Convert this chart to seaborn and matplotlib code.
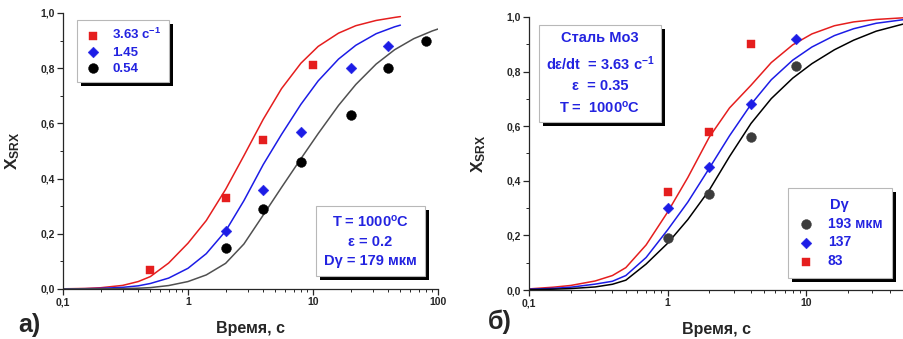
import numpy as np
import seaborn as sns
import matplotlib
matplotlib.use('Agg')
from matplotlib import pyplot as plt
from matplotlib.ticker import FixedLocator, FuncFormatter, MultipleLocator, LogLocator

# ---- panel a): measured points ----
a_red_t = [0.5, 2, 4, 10]
a_red_x = [0.07, 0.33, 0.54, 0.81]
a_blue_t = [2, 4, 8, 20, 40]
a_blue_x = [0.21, 0.36, 0.57, 0.80, 0.88]
a_black_t = [2, 4, 8, 20, 40, 80]
a_black_x = [0.15, 0.29, 0.46, 0.63, 0.80, 0.90]

# ---- panel a): fitted curves (read off the picture) ----
a_red_ct = [0.1, 0.15, 0.2, 0.3, 0.4, 0.5, 0.7, 1, 1.4, 2, 2.8, 4, 5.6, 8, 11, 16, 22, 32, 45, 50]
a_red_cx = [0.0007, 0.002, 0.0046, 0.013, 0.027, 0.045, 0.094, 0.166, 0.248, 0.361, 0.483, 0.615,
            0.726, 0.818, 0.879, 0.927, 0.954, 0.973, 0.984, 0.987]
a_blue_ct = [0.1, 0.15, 0.2, 0.3, 0.4, 0.5, 0.7, 1, 1.4, 2, 2.8, 4, 5.6, 8, 11, 16, 22, 32, 45, 50]
a_blue_cx = [0.0003, 0.0011, 0.0022, 0.006, 0.0115, 0.02, 0.0395, 0.075, 0.128, 0.21, 0.32, 0.451,
             0.56, 0.669, 0.754, 0.833, 0.883, 0.925, 0.95, 0.956]
a_black_ct = [0.1, 0.2, 0.3, 0.4, 0.5, 0.7, 1, 1.4, 2, 2.8, 4, 5.6, 8, 11, 16, 22, 32, 45, 64, 90, 100]
a_black_cx = [0.0001, 0.0005, 0.0014, 0.0029, 0.005, 0.0125, 0.027, 0.051, 0.093, 0.163, 0.268, 0.368,
              0.472, 0.563, 0.665, 0.741, 0.815, 0.867, 0.907, 0.935, 0.942]

# ---- panel б): measured points ----
b_red_t = [1, 2, 4]
b_red_x = [0.36, 0.58, 0.90]
b_blue_t = [1, 2, 4, 8.5]
b_blue_x = [0.30, 0.45, 0.68, 0.92]
b_grey_t = [1, 2, 4, 8.5]
b_grey_x = [0.19, 0.35, 0.56, 0.82]

# ---- panel б): fitted curves ----
b_ct = [0.1, 0.15, 0.2, 0.3, 0.4, 0.5, 0.7, 1, 1.4, 2, 2.8, 4, 5.6, 8, 11, 16, 22, 32, 50]
b_red_cx = [0.004, 0.0103, 0.0166, 0.033, 0.053, 0.082, 0.165, 0.285, 0.412, 0.56, 0.667, 0.75,
            0.833, 0.898, 0.938, 0.968, 0.982, 0.991, 0.997]
b_blue_cx = [0.0029, 0.006, 0.0102, 0.0215, 0.032, 0.053, 0.119, 0.22, 0.322, 0.446, 0.565, 0.68,
             0.77, 0.842, 0.89, 0.932, 0.957, 0.977, 0.99]
b_black_cx = [0.0013, 0.003, 0.0052, 0.0112, 0.021, 0.036, 0.095, 0.171, 0.258, 0.366, 0.489, 0.61,
              0.701, 0.776, 0.829, 0.88, 0.915, 0.948, 0.974]

a_labels = ['3.63 с$^{-1}$', '1.45', '0.54']
b_labels = ['193 мкм', '137', '83']

sns.set_style('ticks')
plt.rcParams['font.family'] = ['Liberation Sans', 'DejaVu Sans']
plt.rcParams['font.weight'] = 'bold'
plt.rcParams['mathtext.fontset'] = 'custom'
plt.rcParams['mathtext.rm'] = 'Liberation Sans:bold'
plt.rcParams['mathtext.it'] = 'Liberation Sans:bold'
plt.rcParams['mathtext.bf'] = 'Liberation Sans:bold'
plt.rcParams['mathtext.default'] = 'bf'

RED = '#e51e1e'
BLUE = '#1c1ce6'
GREY = '#505050'
TXT = '#2323e0'

fig = plt.figure(figsize=(9.04, 3.39), dpi=100)
ax1 = fig.add_axes([63 / 904, 1 - 289 / 339, 375 / 904, 276 / 339])
ax2 = fig.add_axes([529 / 904, 1 - 290 / 339, 374 / 904, 273 / 339])


def curve(ax, t, x, color):
    sns.lineplot(x=t, y=x, ax=ax, color=color, lw=1.1, estimator=None, sort=False)


def points(ax, t, x, marker, color, size, label):
    sns.scatterplot(x=t, y=x, ax=ax, marker=marker, color=color, s=size,
                    edgecolor=color, linewidth=0.3, label=label, zorder=5)


curve(ax1, a_red_ct, a_red_cx, RED)
curve(ax1, a_blue_ct, a_blue_cx, BLUE)
curve(ax1, a_black_ct, a_black_cx, GREY)
points(ax1, a_red_t, a_red_x, 's', RED, 36, a_labels[0])
points(ax1, a_blue_t, a_blue_x, 'D', BLUE, 30, a_labels[1])
points(ax1, a_black_t, a_black_x, 'o', 'black', 50, a_labels[2])

curve(ax2, b_ct, b_red_cx, RED)
curve(ax2, b_ct, b_blue_cx, BLUE)
curve(ax2, b_ct, b_black_cx, 'black')
points(ax2, b_grey_t, b_grey_x, 'o', '#3c3c3c', 50, b_labels[0])
points(ax2, b_blue_t, b_blue_x, 'D', BLUE, 30, b_labels[1])
points(ax2, b_red_t, b_red_x, 's', RED, 36, b_labels[2])

comma = FuncFormatter(lambda v, p: f'{v:.1f}'.replace('.', ','))
logfmt = FuncFormatter(lambda v, p: {0.1: '0,1', 1: '1', 10: '10', 100: '100'}.get(round(v, 1), ''))

for ax, xmax in ((ax1, 100), (ax2, 50)):
    ax.set_xscale('log')
    ax.set_xlim(0.1, xmax)
    ax.set_ylim(0, 1.0)
    ax.xaxis.set_major_locator(FixedLocator([0.1, 1, 10, 100]))
    ax.xaxis.set_major_formatter(logfmt)
    ax.xaxis.set_minor_locator(LogLocator(base=10, subs=np.arange(2, 10)))
    ax.yaxis.set_major_locator(MultipleLocator(0.2))
    ax.yaxis.set_minor_locator(MultipleLocator(0.1))
    ax.yaxis.set_major_formatter(comma)
    ax.tick_params(which='major', length=4, width=0.9, labelsize=7.5, pad=2)
    ax.tick_params(which='minor', length=2.5, width=0.7)
    for s in ('top', 'right'):
        ax.spines[s].set_visible(False)
    for s in ('left', 'bottom'):
        ax.spines[s].set_linewidth(0.9)
    for lab in ax.get_xticklabels() + ax.get_yticklabels():
        lab.set_fontweight('bold')
    ax.set_xlabel('Время, с', fontsize=11.5, fontweight='bold', labelpad=10)
    ax.set_ylabel('X$_{SRX}$', fontsize=12.5, fontweight='bold', labelpad=13)

leg1 = ax1.legend(loc='upper left', bbox_to_anchor=(0.038, 0.975), frameon=True, fancybox=False,
                  edgecolor='#b8b8b8', framealpha=1, handletextpad=0.8,
                  labelspacing=0.3, borderpad=0.55, handlelength=1.3, borderaxespad=0,
                  prop={'size': 9.5, 'weight': 'bold'})
leg1.get_frame().set_linewidth(0.8)
for t in leg1.get_texts():
    t.set_color(TXT)

leg2 = ax2.legend(loc='lower right', bbox_to_anchor=(0.971, 0.044), frameon=True, fancybox=False,
                  edgecolor='#b8b8b8', framealpha=1, handletextpad=0.9,
                  labelspacing=0.35, borderpad=0.7, handlelength=1.3, title='Dγ', borderaxespad=0,
                  prop={'size': 10, 'weight': 'bold'},
                  title_fontproperties={'size': 10.5, 'weight': 'bold'})
leg2.get_frame().set_linewidth(0.8)
leg2.get_title().set_color(TXT)
for t in leg2.get_texts():
    t.set_color(TXT)

box1 = dict(boxstyle='square,pad=0.55', facecolor='white', edgecolor='#b8b8b8', linewidth=0.8)
box2 = dict(boxstyle='square,pad=0.45', facecolor='white', edgecolor='#b8b8b8', linewidth=0.8)
tx1 = ax1.text(0.819, 0.174, 'T = 1000$^{o}$C\nε = 0.2\nDγ = 179 мкм', transform=ax1.transAxes,
               ha='center', va='center', fontsize=10.5, fontweight='bold', color=TXT,
               linespacing=1.45, bbox=box1, zorder=10, multialignment='center')
tx2 = ax2.text(0.19, 0.793, 'Сталь Мо3\ndε/dt  = 3.63 с$^{-1}$\nε  = 0.35\nT =  1000$^{o}$C',
               transform=ax2.transAxes, ha='center', va='center', fontsize=10.5, fontweight='bold',
               color=TXT, linespacing=1.55, bbox=box2, zorder=10, multialignment='center')

# black drop shadows behind the boxes
fig.canvas.draw()
for ax, patch, z in ((ax1, leg1.get_frame(), 4.9), (ax2, leg2.get_frame(), 4.9),
                     (ax1, tx1.get_bbox_patch(), 9.9), (ax2, tx2.get_bbox_patch(), 9.9)):
    bb = patch.get_window_extent()
    inv = ax.transAxes.inverted()
    (x0, y0), (x1, y1) = inv.transform([[bb.x0 + 4, bb.y0 - 4], [bb.x1 + 4, bb.y1 - 4]])
    ax.add_patch(plt.Rectangle((x0, y0), x1 - x0, y1 - y0, transform=ax.transAxes,
                               facecolor='black', edgecolor='none', zorder=z, clip_on=False))

fig.text(18 / 904, 1 - 325 / 339, 'а)', fontsize=18, fontweight='bold', va='center', ha='left')
fig.text(488 / 904, 1 - 322 / 339, 'б)', fontsize=18, fontweight='bold', va='center', ha='left')

fig.savefig('out.png', dpi=100)
